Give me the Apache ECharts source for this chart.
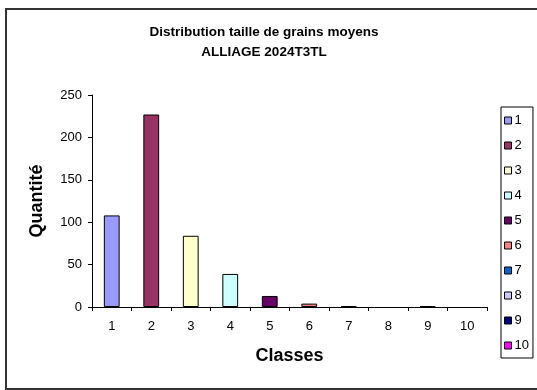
<!DOCTYPE html>
<html>
<head>
<meta charset="utf-8">
<script src="https://cdn.jsdelivr.net/npm/echarts@6/dist/echarts.min.js"></script>
<style>
  html, body { margin: 0; padding: 0; background: #fff; }
  #chart { width: 537px; height: 390px; }
</style>
</head>
<body>
<div id="chart"></div>
<script>
// Grain-size class counts
const classes = ['1', '2', '3', '4', '5', '6', '7', '8', '9', '10'];
const quantities = [108, 227, 84, 39, 13, 4, 1, 0, 1, 0];
const seriesColors = ['#9999FF', '#993366', '#FFFFCC', '#CCFFFF', '#660066',
                      '#FF8080', '#0066CC', '#CCCCFF', '#000080', '#FF00FF'];
const yTicks = [0, 50, 100, 150, 200, 250];

const font = 'Liberation Sans, Arial, sans-serif';

// one series per class, each holding only its own bar; stacking keeps one bar per slot
const series = classes.map((name, i) => ({
  name: name,
  type: 'bar',
  stack: 'all',
  barWidth: '40%',
  data: classes.map((_, j) => {
    if (j !== i) return '-';
    const v = quantities[i];
    // an empty class draws no outline on the axis
    return v === 0 ? { value: v, itemStyle: { borderWidth: 0, opacity: 0 } } : v;
  }),
  itemStyle: { color: seriesColors[i], borderColor: '#000', borderWidth: 1 }
}));

const chart = echarts.init(document.getElementById('chart'));
chart.setOption({
  animation: false,
  backgroundColor: '#fff',
  title: {
    text: 'Distribution taille de grains moyens\nALLIAGE 2024T3TL',
    left: 259, top: 17, textAlign: 'center',
    textStyle: { fontFamily: font, fontSize: 13.5, fontWeight: 'bold', color: '#000', lineHeight: 20 }
  },
  graphic: [{
    type: 'rect', silent: true,
    shape: { x: 6, y: 9, width: 540, height: 380 },
    style: { fill: 'none', stroke: '#333', lineWidth: 2 }
  }],
  legend: {
    orient: 'vertical', left: 501, top: 107,
    data: classes,
    itemWidth: 7, itemHeight: 7, itemGap: 12,
    padding: [7, 4, 6, 3],
    borderColor: '#000', borderWidth: 1,
    icon: 'rect',
    itemStyle: { borderColor: '#000', borderWidth: 1 },
    textStyle: { fontFamily: font, fontSize: 13, color: '#000', padding: [0, 0, 0, -2] }
  },
  grid: { left: 92, right: 50, top: 95, bottom: 83 },
  xAxis: {
    type: 'category', data: classes,
    name: 'Classes', nameLocation: 'middle', nameGap: 40,
    nameTextStyle: { fontFamily: font, fontSize: 18, fontWeight: 'bold', color: '#000' },
    axisLine: { lineStyle: { color: '#000', width: 1 } },
    axisTick: { show: true, length: 4, lineStyle: { color: '#000' } },
    axisLabel: { fontFamily: font, fontSize: 13, color: '#000', margin: 13 },
    splitLine: { show: false }
  },
  yAxis: {
    type: 'value', min: yTicks[0], max: yTicks[yTicks.length - 1], interval: 50,
    name: 'Quantité', nameLocation: 'middle', nameGap: 46,
    nameTextStyle: { fontFamily: font, fontSize: 18, fontWeight: 'bold', color: '#000' },
    axisLine: { show: true, lineStyle: { color: '#000', width: 1 } },
    axisTick: { show: true, length: 4, lineStyle: { color: '#000' } },
    axisLabel: { fontFamily: font, fontSize: 13, color: '#000', margin: 10 },
    splitLine: { show: false }
  },
  series: series
});
</script>
</body>
</html>
